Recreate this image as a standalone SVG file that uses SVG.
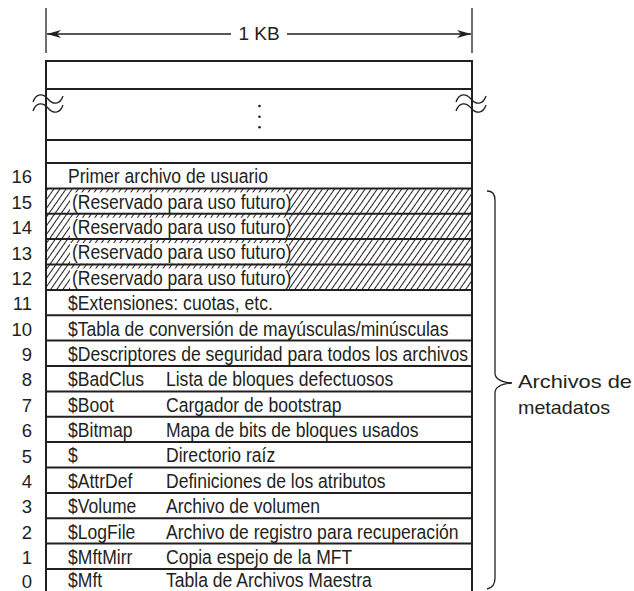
<svg xmlns="http://www.w3.org/2000/svg" width="634" height="591" viewBox="0 0 634 591">
<style>
.ln{stroke:#231f20;stroke-width:2;fill:none}
.thin{stroke:#231f20;stroke-width:1.3;fill:none}
.t{font-family:"Liberation Sans",Arial,sans-serif;font-size:19.5px;fill:#231f20}
.n{font-family:"Liberation Sans",Arial,sans-serif;font-size:18.5px;fill:#231f20;text-anchor:end}
.lbl{font-family:"Liberation Sans",Arial,sans-serif;font-size:19px;fill:#231f20}
</style>
<defs>
<marker id="ah" viewBox="0 0 14 8" refX="14" refY="4" markerWidth="14" markerHeight="8" markerUnits="userSpaceOnUse" orient="auto">
<path d="M0,0 L14,4 L0,8 L4,4 Z" fill="#231f20"/>
</marker>
<pattern id="hatch" width="5" height="10" patternUnits="userSpaceOnUse" patternTransform="rotate(35)">
<line x1="2.5" y1="0" x2="2.5" y2="10" stroke="#231f20" stroke-width="1"/>
</pattern>
</defs>
<rect width="634" height="591" fill="#fff"/>

<g id="dimension">
<line class="thin" x1="46" y1="8" x2="46" y2="53"/>
<line class="thin" x1="472" y1="8" x2="472" y2="53"/>
<text class="lbl" x="259" y="40" text-anchor="middle" font-size="17">1 KB</text>
</g>

<g id="connectors">
<line class="thin" x1="231" y1="34" x2="47" y2="34" marker-end="url(#ah)"/>
<line class="thin" x1="287" y1="34" x2="471" y2="34" marker-end="url(#ah)"/>
<path class="thin" d="M487,191 C492,191 495,194 495,200 L495,373 C495,379 500,382 512,383 C500,384 495,387 495,393 L495,578 C495,584 492,588 487,589"/>
</g>

<g id="hatched-bg">
<rect x="46" y="188.4" width="426" height="101.5" fill="url(#hatch)"/>
</g>

<g id="upper-blocks">
<line class="ln" x1="46" y1="61" x2="472" y2="61"/>
<line class="ln" x1="46" y1="89" x2="472" y2="89"/>
<line class="ln" x1="46" y1="140" x2="472" y2="140"/>
<line class="ln" x1="46" y1="163" x2="472" y2="163"/>
<circle cx="259.5" cy="106" r="1.3" fill="#231f20"/>
<circle cx="259.5" cy="116.7" r="1.3" fill="#231f20"/>
<circle cx="259.5" cy="127.3" r="1.3" fill="#231f20"/>
</g>

<g id="frame">
<line class="ln" x1="46" y1="60" x2="46" y2="591"/>
<line class="ln" x1="472" y1="60" x2="472" y2="591"/>
<path class="thin" d="M33,102 C36,93 43,93 48,99 C53,105 60,105 63,96"/>
<path class="thin" d="M33,111 C36,102 43,102 48,108 C53,114 60,114 63,105"/>
<path class="thin" d="M456,102 C459,93 466,93 471,99 C476,105 483,105 486,96"/>
<path class="thin" d="M456,111 C459,102 466,102 471,108 C476,114 483,114 486,105"/>
</g>

<g id="row16"><line class="ln" x1="46" y1="188.4" x2="472" y2="188.4"/><text class="n" x="32" y="183.4">16</text><text class="t" transform="scale(0.9 1)" x="75.6" y="183.4">Primer archivo de usuario</text></g>
<g id="row15"><rect x="70" y="192.4" width="219" height="20.4" fill="#fff"/><line class="ln" x1="46" y1="213.75" x2="472" y2="213.75"/><text class="n" x="32" y="208.8">15</text><text class="t" transform="scale(0.9 1)" x="80" y="208.8">(Reservado para uso futuro)</text></g>
<g id="row14"><rect x="70" y="217.75" width="219" height="20.4" fill="#fff"/><line class="ln" x1="46" y1="239.1" x2="472" y2="239.1"/><text class="n" x="32" y="234.2">14</text><text class="t" transform="scale(0.9 1)" x="80" y="234.2">(Reservado para uso futuro)</text></g>
<g id="row13"><rect x="70" y="243.1" width="219" height="20.4" fill="#fff"/><line class="ln" x1="46" y1="264.5" x2="472" y2="264.5"/><text class="n" x="32" y="259.5">13</text><text class="t" transform="scale(0.9 1)" x="80" y="259.5">(Reservado para uso futuro)</text></g>
<g id="row12"><rect x="70" y="268.5" width="219" height="20.4" fill="#fff"/><line class="ln" x1="46" y1="289.9" x2="472" y2="289.9"/><text class="n" x="32" y="284.9">12</text><text class="t" transform="scale(0.9 1)" x="80" y="284.9">(Reservado para uso futuro)</text></g>
<g id="row11"><line class="ln" x1="46" y1="315.25" x2="472" y2="315.25"/><text class="n" x="32" y="310.3">11</text><text class="t" transform="scale(0.9 1)" x="75.6" y="310.3">$Extensiones: cuotas, etc.</text></g>
<g id="row10"><line class="ln" x1="46" y1="340.6" x2="472" y2="340.6"/><text class="n" x="32" y="335.6">10</text><text class="t" transform="scale(0.9 1)" x="75.6" y="335.6">$Tabla de conversión de mayúsculas/minúsculas</text></g>
<g id="row9"><line class="ln" x1="46" y1="366" x2="472" y2="366"/><text class="n" x="32" y="361">9</text><text class="t" transform="scale(0.9 1)" x="75.6" y="361">$Descriptores de seguridad para todos los archivos</text></g>
<g id="row8"><line class="ln" x1="46" y1="391.4" x2="472" y2="391.4"/><text class="n" x="32" y="386.4">8</text><text class="t" transform="scale(0.9 1)" x="75.6" y="386.4">$BadClus</text><text class="t" transform="scale(0.9 1)" x="184.4" y="386.4">Lista de bloques defectuosos</text></g>
<g id="row7"><line class="ln" x1="46" y1="416.75" x2="472" y2="416.75"/><text class="n" x="32" y="411.8">7</text><text class="t" transform="scale(0.9 1)" x="75.6" y="411.8">$Boot</text><text class="t" transform="scale(0.9 1)" x="184.4" y="411.8">Cargador de bootstrap</text></g>
<g id="row6"><line class="ln" x1="46" y1="442.1" x2="472" y2="442.1"/><text class="n" x="32" y="437.1">6</text><text class="t" transform="scale(0.9 1)" x="75.6" y="437.1">$Bitmap</text><text class="t" transform="scale(0.9 1)" x="184.4" y="437.1">Mapa de bits de bloques usados</text></g>
<g id="row5"><line class="ln" x1="46" y1="467.5" x2="472" y2="467.5"/><text class="n" x="32" y="462.5">5</text><text class="t" transform="scale(0.9 1)" x="75.6" y="462.5">$</text><text class="t" transform="scale(0.9 1)" x="184.4" y="462.5">Directorio raíz</text></g>
<g id="row4"><line class="ln" x1="46" y1="492.9" x2="472" y2="492.9"/><text class="n" x="32" y="487.9">4</text><text class="t" transform="scale(0.9 1)" x="75.6" y="487.9">$AttrDef</text><text class="t" transform="scale(0.9 1)" x="184.4" y="487.9">Definiciones de los atributos</text></g>
<g id="row3"><line class="ln" x1="46" y1="518.25" x2="472" y2="518.25"/><text class="n" x="32" y="513.3">3</text><text class="t" transform="scale(0.9 1)" x="75.6" y="513.3">$Volume</text><text class="t" transform="scale(0.9 1)" x="184.4" y="513.3">Archivo de volumen</text></g>
<g id="row2"><line class="ln" x1="46" y1="543.6" x2="472" y2="543.6"/><text class="n" x="32" y="538.6">2</text><text class="t" transform="scale(0.9 1)" x="75.6" y="538.6">$LogFile</text><text class="t" transform="scale(0.9 1)" x="184.4" y="538.6">Archivo de registro para recuperación</text></g>
<g id="row1"><line class="ln" x1="46" y1="569" x2="472" y2="569"/><text class="n" x="32" y="564">1</text><text class="t" transform="scale(0.9 1)" x="75.6" y="564">$MftMirr</text><text class="t" transform="scale(0.9 1)" x="184.4" y="564">Copia espejo de la MFT</text></g>
<g id="row0"><text class="n" x="32" y="587.5">0</text><text class="t" transform="scale(0.9 1)" x="75.6" y="587.5">$Mft</text><text class="t" transform="scale(0.9 1)" x="184.4" y="587.5">Tabla de Archivos Maestra</text></g>

<g id="metadata-label">
<text class="lbl" x="518" y="388" textLength="114" lengthAdjust="spacingAndGlyphs">Archivos de</text>
<text class="lbl" x="518" y="414" textLength="92" lengthAdjust="spacingAndGlyphs">metadatos</text>
</g>
</svg>
